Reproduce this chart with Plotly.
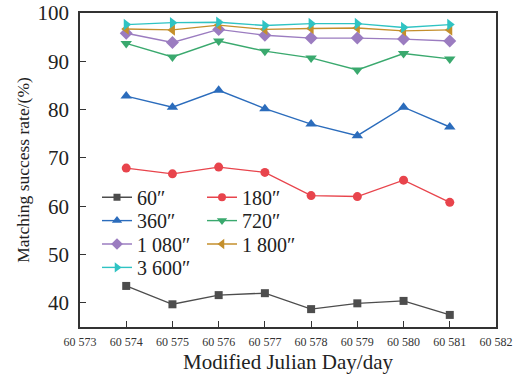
import plotly.graph_objects as go

days = [60574, 60575, 60576, 60577, 60578, 60579, 60580, 60581]
x_tick_vals = [60573, 60574, 60575, 60576, 60577, 60578, 60579, 60580, 60581, 60582]
x_tick_text = ["60 573", "60 574", "60 575", "60 576", "60 577", "60 578", "60 579", "60 580", "60 581", "60 582"]
y_tick_vals = [40, 50, 60, 70, 80, 90, 100]

s60 = [43.5, 39.7, 41.6, 42.0, 38.7, 39.9, 40.4, 37.5]
s180 = [67.9, 66.7, 68.1, 67.0, 62.2, 62.0, 65.4, 60.8]
s360 = [82.8, 80.5, 84.0, 80.2, 77.0, 74.6, 80.5, 76.4]
s720 = [93.7, 90.9, 94.2, 92.1, 90.7, 88.2, 91.6, 90.5]
s1080 = [95.8, 93.9, 96.6, 95.4, 94.8, 94.8, 94.6, 94.2]
s1800 = [96.7, 96.5, 97.5, 96.6, 96.8, 96.9, 96.3, 96.5]
s3600 = [97.6, 98.0, 98.1, 97.4, 97.8, 97.8, 97.0, 97.6]

names = ["60″", "180″", "360″", "720″", "1 080″", "1 800″", "3 600″"]
series = [s60, s180, s360, s720, s1080, s1800, s3600]
colors = ["#4d4d4d", "#e8444c", "#2b6cbc", "#3aa96e", "#9b7cc0", "#c48f2c", "#2fc3c3"]
symbols = ["square", "circle", "triangle-up", "triangle-down", "diamond", "triangle-left", "triangle-right"]
sizes = [8, 9, 10, 10, 10, 10, 10]
leg_sizes = [7, 8, 9, 9, 9, 9, 9]

# legend layout: (column, row) for each series
leg_col = [0, 1, 0, 1, 0, 1, 0]
leg_row = [0, 0, 1, 1, 2, 2, 3]

font = "Liberation Serif, Times New Roman, serif"

# plot area in pixels
W, H = 520, 374
ML, MR, MT, MB = 80, 24, 13, 47
PW, PH = W - ML - MR, H - MT - MB

fig = go.Figure()
layout_legends = {}
for i, (n, s, c, sym, sz, lsz) in enumerate(zip(names, series, colors, symbols, sizes, leg_sizes)):
    lg = "legend" if i == 0 else f"legend{i+1}"
    fig.add_trace(go.Scatter(
        x=days, y=s, name=n, mode="lines+markers",
        line=dict(color=c, width=1.4),
        marker=dict(symbol=sym, size=sz, color=c),
        showlegend=False,
    ))
    fig.add_trace(go.Scatter(
        x=[None], y=[None], name=n, mode="lines+markers",
        line=dict(color=c, width=1.4),
        marker=dict(symbol=sym, size=lsz, color=c),
        legend=lg, showlegend=True,
    ))
    text_x_px = [139, 244][leg_col[i]] - 40 - 2
    center_px = 196.7 + leg_row[i] * 23.4
    top_px = center_px - 19
    layout_legends[lg] = dict(
        x=(text_x_px - ML) / PW, y=(H - MB - top_px) / PH,
        xanchor="left", yanchor="top", orientation="v",
        font=dict(family=font, size=20, color="#222"),
        bgcolor="rgba(0,0,0,0)", itemwidth=30, tracegroupgap=0,
        borderwidth=0,
    )

fig.update_layout(
    width=W, height=H,
    margin=dict(l=ML, r=MR, t=MT, b=MB),
    plot_bgcolor="white", paper_bgcolor="white",
    font=dict(family=font, color="#222"),
    showlegend=True,
    **layout_legends,
)
fig.update_xaxes(
    range=[60573, 60582], tickvals=x_tick_vals, ticktext=x_tick_text,
    ticks="inside", ticklen=6, tickcolor="#333", tickwidth=1,
    showline=True, linecolor="#333", linewidth=1.5, mirror=True,
    showgrid=False, zeroline=False, automargin=False,
    ticklabelstandoff=3,
    tickfont=dict(family=font, size=12, color="#333"),
    title=dict(text="Modified Julian Day/day", font=dict(family=font, size=21, color="#222"), standoff=8),
)
fig.update_yaxes(
    range=[35, 100], tickvals=y_tick_vals,
    ticks="inside", ticklen=6, tickcolor="#333", tickwidth=1,
    showline=True, linecolor="#333", linewidth=1.5, mirror=True,
    showgrid=False, zeroline=False, automargin=False,
    ticklabelstandoff=5,
    tickfont=dict(family=font, size=21, color="#222"),
    title=dict(text="Matching success rate/(%)", font=dict(family=font, size=17.5, color="#222"), standoff=3),
)
fig.write_html("out.html", config={"displayModeBar": False},
               post_script="document.body.style.margin='0';document.body.style.padding='0';")
